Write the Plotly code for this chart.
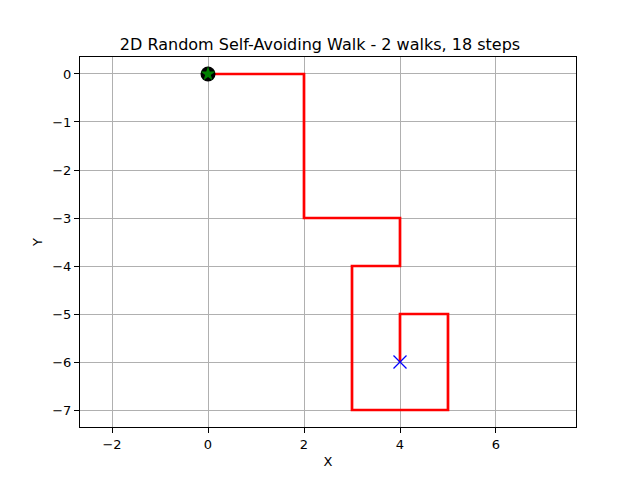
import plotly.graph_objects as go

walk_x = [0, 1, 2, 2, 2, 2, 3, 4, 4, 3, 3, 3, 3, 4, 5, 5, 5, 4, 4]
walk_y = [0, 0, 0, -1, -2, -3, -3, -3, -4, -4, -5, -6, -7, -7, -7, -6, -5, -5, -6]
x_ticks = [-2, 0, 2, 4, 6]
y_ticks = [0, -1, -2, -3, -4, -5, -6, -7]

fig = go.Figure()
fig.add_trace(go.Scatter(x=walk_x, y=walk_y, mode="lines",
                         line=dict(color="red", width=2.7), showlegend=False))
fig.add_trace(go.Scatter(x=[walk_x[0]], y=[walk_y[0]], mode="markers",
                         marker=dict(color="black", size=15, symbol="circle"), showlegend=False))
fig.add_trace(go.Scatter(x=[walk_x[0]], y=[walk_y[0]], mode="markers",
                         marker=dict(color="green", size=11, symbol="star"), showlegend=False))
fig.add_trace(go.Scatter(x=[walk_x[-1]], y=[walk_y[-1]], mode="markers",
                         marker=dict(color="blue", size=13, symbol="x-thin",
                                     line=dict(color="blue", width=1.3)), showlegend=False))

axis_common = dict(showgrid=True, gridcolor="#b0b0b0", gridwidth=1, zeroline=False,
                   showline=True, linecolor="black", linewidth=1, mirror=True,
                   ticks="outside", ticklen=5, tickcolor="black",
                   tickfont=dict(family="DejaVu Sans", size=13, color="black"))
fig.update_xaxes(range=[-2.667, 7.667], tickvals=x_ticks,
                 title=dict(text="X", font=dict(family="DejaVu Sans", size=13, color="black"), standoff=6),
                 **axis_common)
fig.update_yaxes(range=[-7.354, 0.354], tickvals=y_ticks,
                 title=dict(text="Y", font=dict(family="DejaVu Sans", size=13, color="black"), standoff=6),
                 **axis_common)
fig.update_layout(
    width=632, height=472,
    margin=dict(l=72, r=64, t=49, b=53),
    paper_bgcolor="white", plot_bgcolor="white",
    title=dict(text="2D Random Self-Avoiding Walk - 2 walks, 18 steps",
               x=(320 - 8) / 632, xanchor="center", y=1 - 36 / 472, yanchor="middle",
               font=dict(family="DejaVu Sans", size=16, color="black")),
)
fig.write_html("out.html")
